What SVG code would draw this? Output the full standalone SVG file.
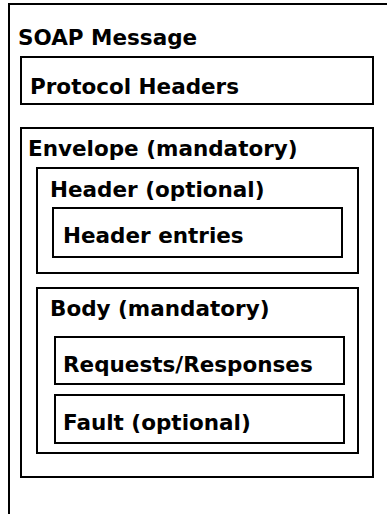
<svg xmlns="http://www.w3.org/2000/svg" width="387" height="514" viewBox="0 0 387 514">
<style>
rect{fill:#fff;stroke:#000;stroke-width:2}
text{font-family:"DejaVu Sans",sans-serif;font-weight:bold;font-size:21.5px;fill:#000}
</style>
<rect x="0" y="0" width="387" height="514" style="stroke:none"/>
<g id="soap-message"><rect x="9" y="4" width="400" height="530"/><text x="18" y="45">SOAP Message</text></g>
<g id="protocol-headers"><rect x="21" y="57" width="352" height="47"/><text x="30" y="94">Protocol Headers</text></g>
<g id="envelope"><rect x="21" y="128" width="352" height="349"/><text x="28" y="156">Envelope (mandatory)</text></g>
<g id="header"><rect x="37" y="168" width="321" height="105"/><text x="50" y="197">Header (optional)</text></g>
<g id="header-entries"><rect x="53" y="208" width="289" height="49"/><text x="63" y="243">Header entries</text></g>
<g id="body"><rect x="37" y="288" width="321" height="165"/><text x="50" y="316">Body (mandatory)</text></g>
<g id="requests-responses"><rect x="55" y="337" width="289" height="47"/><text x="63" y="372">Requests/Responses</text></g>
<g id="fault"><rect x="55" y="395" width="289" height="48"/><text x="63" y="430">Fault (optional)</text></g>
<g id="connectors"/>
</svg>
